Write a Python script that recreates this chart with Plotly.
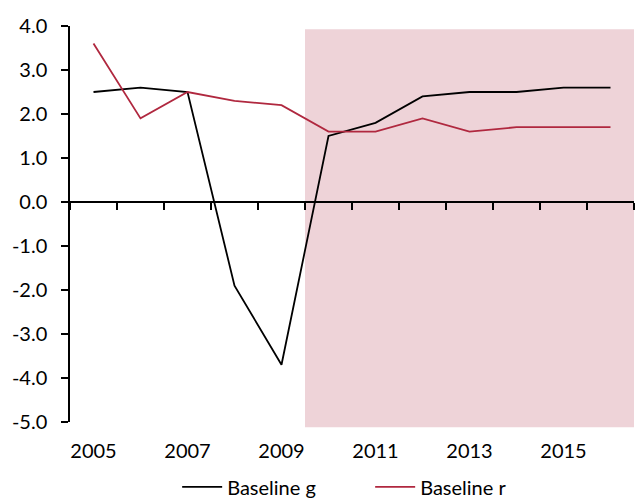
import plotly.graph_objects as go

years = [2005, 2006, 2007, 2008, 2009, 2010, 2011, 2012, 2013, 2014, 2015, 2016]
baseline_g = [2.5, 2.6, 2.5, -1.9, -3.7, 1.5, 1.8, 2.4, 2.5, 2.5, 2.6, 2.6]
baseline_r = [3.6, 1.9, 2.5, 2.3, 2.2, 1.6, 1.6, 1.9, 1.6, 1.7, 1.7, 1.7]
y_ticks = [4.0, 3.0, 2.0, 1.0, 0.0, -1.0, -2.0, -3.0, -4.0, -5.0]
x_labels = [2005, 2007, 2009, 2011, 2013, 2015]
projection_start = 2010

FONT = "Lato"
FS = 20
idx = list(range(len(years)))
y_min, y_max = -5, 4

fig = go.Figure()
fig.add_trace(go.Scatter(x=idx, y=baseline_g, mode="lines", name="Baseline g",
                         line=dict(color="#000000", width=1.8)))
fig.add_trace(go.Scatter(x=idx, y=baseline_r, mode="lines", name="Baseline r",
                         line=dict(color="#B0283F", width=1.8)))
# helper trace so the zero-line axis is drawn
fig.add_trace(go.Scatter(x=[idx[0]], y=[0], xaxis="x2", mode="markers",
                         marker=dict(opacity=0), showlegend=False, hoverinfo="skip"))

# shaded projection period
p = years.index(projection_start)
fig.add_shape(type="rect", xref="x", yref="paper", x0=p - 0.5, x1=len(years) - 0.5,
              y0=-0.013, y1=0.992, fillcolor="#EED3D8", line=dict(width=0), layer="below")

fig.update_layout(
    width=637, height=498,
    margin=dict(l=70, r=3, t=26, b=76, autoexpand=False),
    paper_bgcolor="white", plot_bgcolor="white",
    font=dict(family=FONT, size=FS, color="#000000"),
    showlegend=True,
    legend=dict(orientation="h", x=0.19, xanchor="left", yref="paper",
                y=-0.164, yanchor="middle", font=dict(size=20), itemwidth=40,
                entrywidth=138, entrywidthmode="pixels",
                bgcolor="rgba(0,0,0,0)"),
    xaxis=dict(range=[-0.5, len(years) - 0.5], tickmode="array",
               tickvals=[years.index(y) for y in x_labels],
               ticktext=[str(y) for y in x_labels],
               showline=False, ticks="", showgrid=False, zeroline=False,
               ticklabelstandoff=15, tickfont=dict(size=FS), automargin=False),
    xaxis2=dict(overlaying="x", anchor="free", position=(0 - y_min) / (y_max - y_min),
                side="bottom", range=[-0.5, len(years) - 0.5], tickmode="array",
                tickvals=[i + 0.5 for i in range(-1, len(years))],
                showticklabels=False, ticks="outside", ticklen=7, tickwidth=1.5,
                tickcolor="#000000", showline=True, linecolor="#000000", linewidth=1.5,
                showgrid=False, zeroline=False),
    yaxis=dict(range=[y_min, y_max], tickmode="array", tickvals=y_ticks,
               ticktext=[f"{v:.1f}" for v in y_ticks],
               showline=True, linecolor="#000000", linewidth=1.5,
               ticks="outside", ticklen=7, tickwidth=1.5, tickcolor="#000000",
               showgrid=False, zeroline=False, tickfont=dict(size=FS),
               ticklabelstandoff=10, automargin=False),
)

fig.write_html("out.html")
